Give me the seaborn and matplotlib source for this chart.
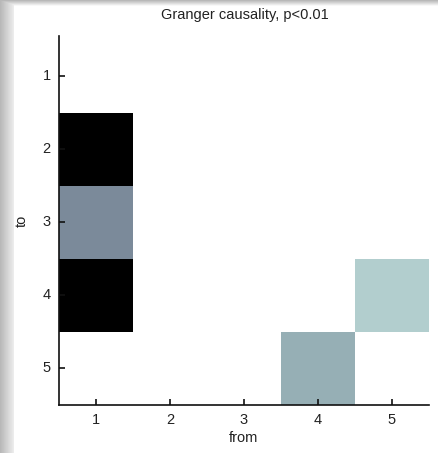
import numpy as np
import pandas as pd
import matplotlib
matplotlib.use("Agg")
import matplotlib.pyplot as plt
import seaborn as sns

# Data: row = "to", column = "from"; 1.0 = no causality (white in bone colormap)
to_labels = ["1", "2", "3", "4", "5"]
from_labels = ["1", "2", "3", "4", "5"]
row1 = [1.0, 1.0, 1.0, 1.0, 1.0]
row2 = [0.0, 1.0, 1.0, 1.0, 1.0]
row3 = [0.55, 1.0, 1.0, 1.0, 1.0]
row4 = [0.0, 1.0, 1.0, 1.0, 0.78]
row5 = [1.0, 1.0, 1.0, 0.67, 1.0]

df = pd.DataFrame([row1, row2, row3, row4, row5], index=to_labels, columns=from_labels)

sns.set_style("white")
plt.rcParams['font.family'] = ['Liberation Sans', 'DejaVu Sans']

W, H = 438, 453
fig = plt.figure(figsize=(W / 100, H / 100), dpi=100)

# frame shadow (left and top gray gradients)
bg = fig.add_axes([0, 0, 1, 1], zorder=-10)
img = np.ones((H, W))
xs = np.arange(W)
ys = np.arange(H)
left = np.clip(xs / 14.0, 0, 1)
leftshade = np.where(xs < 14, 0.72 + 0.22 * left, 1.0)
top = np.where(ys < 6, 0.72 + 0.05 * ys, 1.0)
img = np.minimum(img, leftshade[None, :])
img = np.minimum(img, top[:, None])
bg.imshow(img, cmap="gray", vmin=0, vmax=1, aspect="auto", interpolation="bilinear")
bg.axis("off")

ax = fig.add_axes([59 / W, 1 - 405 / H, 370 / W, 369 / H])
sns.heatmap(df, cmap="bone", vmin=0, vmax=1, cbar=False, ax=ax, square=False)
ax.set_axisbelow(False)

for s in ["top", "right"]:
    ax.spines[s].set_visible(False)
for s in ["left", "bottom"]:
    ax.spines[s].set_visible(True)
    ax.spines[s].set_color("#111111")
    ax.spines[s].set_linewidth(1.2)
ax.set_ylim(5, -0.05)

ax.tick_params(axis="both", direction="in", length=4, width=1.2, color="#111111",
               labelsize=10.5, labelcolor="#222222", pad=6)
ax.tick_params(axis="y", left=True, labelrotation=0)
ax.tick_params(axis="x", bottom=True, labelrotation=0)
for t in ax.xaxis.get_major_ticks() + ax.yaxis.get_major_ticks():
    t.tick1line.set_zorder(5)
ax.set_xlabel("from", fontsize=10.5, color="#222222", labelpad=3)
ax.set_ylabel("to", fontsize=10.5, color="#222222", labelpad=10)
fig.text(245 / W, 1 - 15 / H, "Granger causality, p<0.01", ha="center", va="center",
         fontsize=10.5, color="#222222")

fig.savefig("out.png", dpi=100)
